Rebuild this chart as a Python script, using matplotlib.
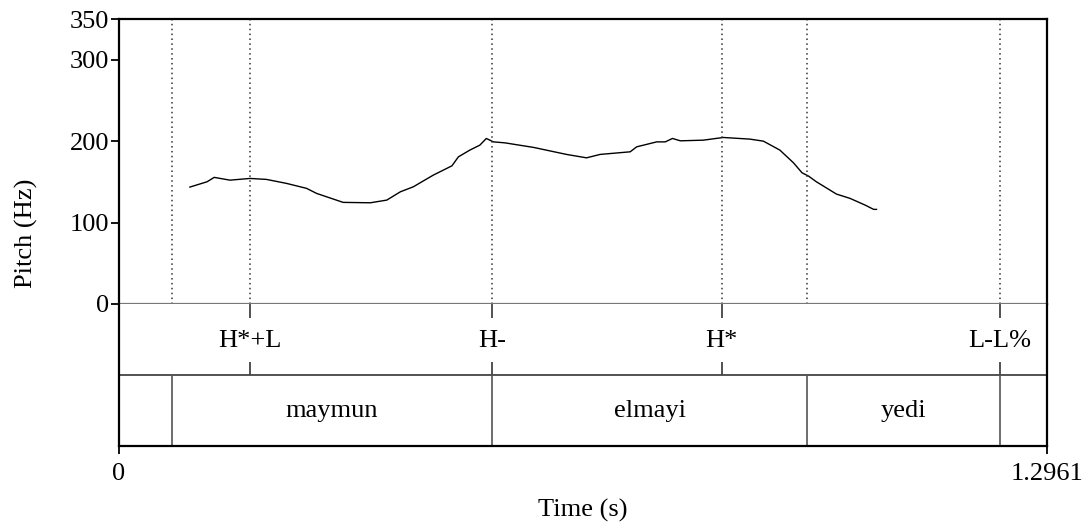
import numpy as np
import matplotlib
matplotlib.use('Agg')
import matplotlib.pyplot as plt

plt.rcParams['font.family'] = ['Liberation Serif', 'DejaVu Serif']

# pitch contour (time in s, frequency in Hz)
pitch_t = [0.099, 0.123, 0.133, 0.155, 0.183, 0.206, 0.234, 0.262, 0.276,
           0.313, 0.351, 0.374, 0.393, 0.411, 0.439, 0.465, 0.474, 0.490,
           0.504, 0.513, 0.523, 0.539, 0.579, 0.625, 0.653, 0.672, 0.714,
           0.723, 0.751, 0.763, 0.773, 0.784, 0.816, 0.844, 0.881, 0.900,
           0.923, 0.942, 0.954, 0.963, 0.974, 1.002, 1.021, 1.042, 1.054,
           1.058]
pitch_hz = [143.6, 150.1, 155.5, 152.1, 154.2, 153.0, 148.1, 142.0, 135.8,
            124.8, 124.3, 127.6, 137.8, 143.9, 158.3, 169.7, 180.7, 189.0,
            195.1, 203.3, 199.1, 197.9, 192.3, 183.7, 179.5, 183.7, 186.9,
            193.0, 199.1, 199.1, 203.3, 200.4, 201.2, 204.5, 202.5, 200.0,
            189.0, 173.4, 161.1, 157.1, 150.1, 135.0, 129.7, 121.5, 116.2,
            116.2]

t_end = 1.2961

# tone tier (points)
tone_t = [0.183, 0.521, 0.842, 1.230]
tone_labels = ['H*+L', 'H-', 'H*', 'L-L%']

# word tier (intervals)
word_bounds = [0.074, 0.521, 0.961, 1.230]
word_labels = ['', 'maymun', 'elmayi', 'yedi', '']

fig = plt.figure(figsize=(10.87, 5.22), dpi=100)
left, width = 119 / 1087, 928 / 1087
ax = fig.add_axes([left, 1 - 304 / 522, width, 285 / 522])
ax2 = fig.add_axes([left, 1 - 446 / 522, width, 142 / 522], sharex=ax)

fs = 19

# pitch panel
ax.plot(pitch_t, pitch_hz, color='black', lw=1)
for x in sorted(set(tone_t + word_bounds)):
    ax.axvline(x, color='#333333', lw=1.1, ls=(0, (1, 2.2)))
ax.set_xlim(0, t_end)
ax.set_ylim(0, 350)
ax.set_yticks([0, 100, 200, 300, 350])
ax.tick_params(axis='y', direction='out', length=6, width=1.3,
               labelsize=fs, pad=1)
ax.tick_params(axis='x', bottom=False, labelbottom=False)
for s in ['top', 'left', 'right']:
    ax.spines[s].set_linewidth(1.6)
    ax.spines[s].set_color('black')
ax.spines['bottom'].set_color('#777777')
ax.spines['bottom'].set_linewidth(1.6)

# y label centred on the whole box (pitch + tiers)
fig.text(26 / 1087, 1 - 233 / 522, 'Pitch (Hz)', rotation=90,
         ha='center', va='center', fontsize=fs)

# tiers
ax2.set_ylim(0, 2)
ax2.axhline(1, color='#444444', lw=1.3)
for x, lab in zip(tone_t, tone_labels):
    ax2.vlines(x, 1.8, 2.0, color='#444444', lw=1.3)
    ax2.vlines(x, 1.0, 1.18, color='#444444', lw=1.3)
    ax2.text(x, 1.48, lab, ha='center', va='center', fontsize=fs)
for x in word_bounds:
    ax2.vlines(x, 0, 1, color='#555555', lw=1.2)
edges = [0] + word_bounds + [t_end]
for a, b, lab in zip(edges[:-1], edges[1:], word_labels):
    if lab:
        ax2.text((a + b) / 2, 0.5, lab, ha='center', va='center', fontsize=fs)
ax2.set_yticks([])
ax2.set_xticks([0, t_end])
ax2.set_xticklabels(['0', '1.2961'])
ax2.tick_params(axis='x', direction='out', length=6, width=1.3,
                labelsize=fs, pad=6)
ax2.set_xlabel('Time (s)', fontsize=fs, labelpad=10)
ax2.spines['top'].set_visible(False)
for s in ['left', 'right', 'bottom']:
    ax2.spines[s].set_linewidth(1.6)
    ax2.spines[s].set_color('black')

fig.savefig('out.png', dpi=100)
